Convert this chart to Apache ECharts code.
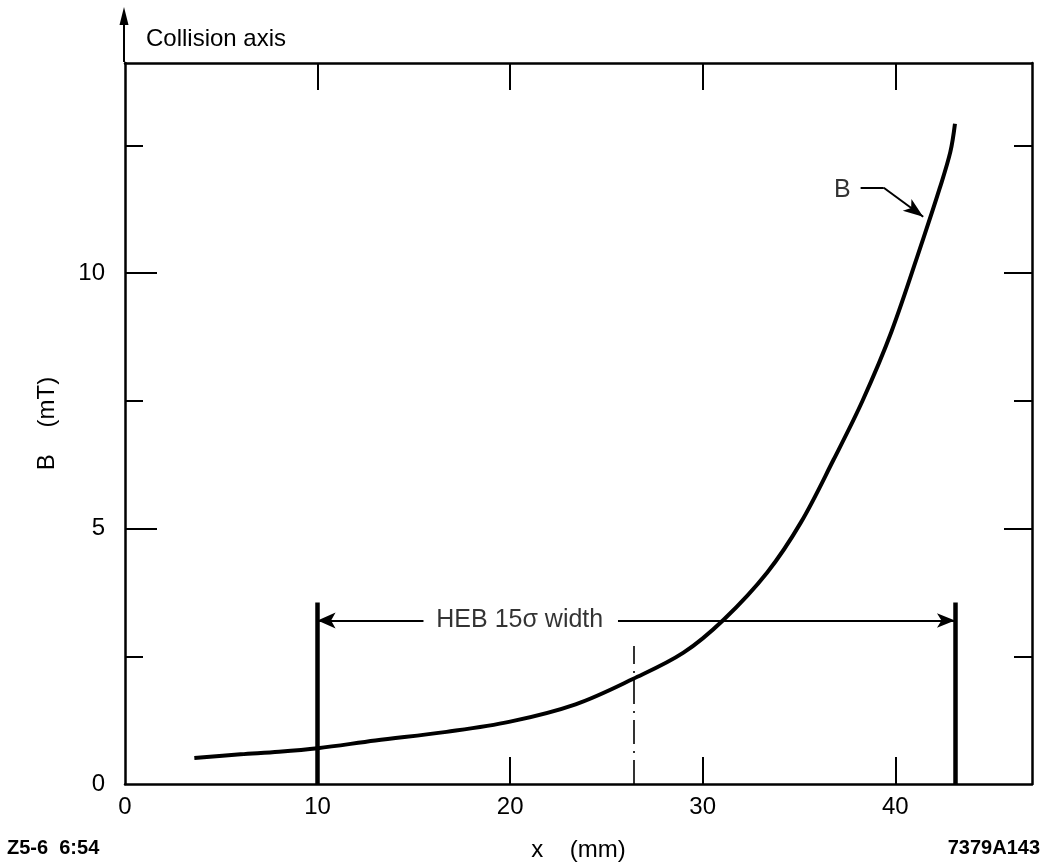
<!DOCTYPE html>
<html>
<head>
<meta charset="utf-8">
<script src="https://cdn.jsdelivr.net/npm/echarts@6/dist/echarts.min.js"></script>
<style>
  html, body { margin: 0; padding: 0; background: #fff; }
  #chart { width: 1046px; height: 866px; }
</style>
</head>
<body>
<div id="chart"></div>
<script>
// ---- data ----
const curveX = [3.6, 6, 8, 10, 13, 16.7, 20, 23.4, 26.4, 29.0, 31.1, 33.35, 35.1, 36.8, 38.3, 39.8, 41.45, 42.3, 42.86, 43.1];
const curveY = [0.51, 0.58, 0.63, 0.70, 0.85, 1.02, 1.22, 1.56, 2.06, 2.57, 3.22, 4.14, 5.12, 6.35, 7.5, 8.85, 10.67, 11.65, 12.37, 12.92];

const xLabelValues = [0, 10, 20, 30, 40];
const xTickValues = [10, 20, 30, 40];
const yLabelValues = [0, 5, 10];
const yMajorTickValues = [5, 10];
const yMinorTickValues = [2.5, 7.5, 12.5];
const xRange = [0, 47.1];
const yRange = [0, 14.11];

// HEB 15 sigma width bracket
const bracketX = [10, 43.1];
const bracketTop = 3.55;
const arrowY = 3.2;
const arrowGap = [15.5, 25.6];      // gap in the arrow line where the text sits
const widthLabel = 'HEB 15σ width';
const widthLabelX = 20.5;
const centerLineX = 26.4;
const centerLineTop = 2.7;

// "B" label and its leader arrow
const bLabel = 'B';
const bLabelPos = [37.25, 11.63];
const bLeaderX = [38.2, 39.4, 41.45];
const bLeaderY = [11.67, 11.67, 11.1];

const FONT = 'Liberation Sans, Arial, Helvetica, sans-serif';

const chart = echarts.init(document.getElementById('chart'));

const blackLine = { color: '#000', width: 2.5 };

function yAxisDef(position, ticks, tickLen, showLine, showLabel) {
  return {
    type: 'value', position: position, min: yRange[0], max: yRange[1], interval: 5,
    axisLine: { show: showLine, onZero: false, lineStyle: blackLine },
    axisTick: { show: true, inside: true, length: tickLen, customValues: ticks, lineStyle: { color: '#000', width: 2 } },
    axisLabel: { show: showLabel, customValues: yLabelValues, margin: 20, color: '#000', fontSize: 24, fontFamily: FONT },
    splitLine: { show: false }
  };
}

const annotationLines = [
  // bracket verticals
  [{ coord: [bracketX[0], 0], symbol: 'none', lineStyle: { width: 4.5 } }, { coord: [bracketX[0], bracketTop], symbol: 'none' }],
  [{ coord: [bracketX[1], 0], symbol: 'none', lineStyle: { width: 4.5 } }, { coord: [bracketX[1], bracketTop], symbol: 'none' }],
  // arrow, left part
  [{ coord: [arrowGap[0], arrowY], symbol: 'none', lineStyle: { width: 2 } }, { coord: [bracketX[0], arrowY], symbol: 'arrow', symbolSize: [12, 18] }],
  // arrow, right part
  [{ coord: [arrowGap[1], arrowY], symbol: 'none', lineStyle: { width: 2 } }, { coord: [bracketX[1], arrowY], symbol: 'arrow', symbolSize: [11, 18] }],
  // centre dash-dot line
  [{ coord: [centerLineX, 0], symbol: 'none', lineStyle: { width: 1.6, type: [24, 7, 2, 7] } }, { coord: [centerLineX, centerLineTop], symbol: 'none' }],
  // B leader
  [{ coord: [bLeaderX[0], bLeaderY[0]], symbol: 'none', lineStyle: { width: 2 } }, { coord: [bLeaderX[1], bLeaderY[1]], symbol: 'none' }],
  [{ coord: [bLeaderX[1], bLeaderY[1]], symbol: 'none', lineStyle: { width: 2 } }, { coord: [bLeaderX[2], bLeaderY[2]], symbol: 'arrow', symbolSize: [11, 20] }]
];

const option = {
  animation: false,
  backgroundColor: '#fff',
  textStyle: { fontFamily: FONT, color: '#000' },
  grid: { left: 125, right: 14, top: 63, bottom: 82, containLabel: false, outerBoundsMode: 'none' },
  xAxis: [
    {
      type: 'value', position: 'bottom', min: xRange[0], max: xRange[1], interval: 10,
      name: 'x    (mm)', nameLocation: 'middle', nameGap: 54,
      nameTextStyle: { fontSize: 24, color: '#000', fontFamily: FONT },
      axisLine: { show: true, onZero: false, lineStyle: blackLine },
      axisTick: { show: true, inside: true, length: 27, customValues: xTickValues, lineStyle: { color: '#000', width: 2 } },
      axisLabel: { show: true, customValues: xLabelValues, margin: 11, color: '#000', fontSize: 24, fontFamily: FONT },
      splitLine: { show: false }
    },
    {
      type: 'value', position: 'top', min: xRange[0], max: xRange[1], interval: 10,
      axisLine: { show: true, onZero: false, lineStyle: blackLine },
      axisTick: { show: true, inside: true, length: 27, customValues: xTickValues, lineStyle: { color: '#000', width: 2 } },
      axisLabel: { show: false },
      splitLine: { show: false }
    }
  ],
  yAxis: [
    Object.assign(yAxisDef('left', yMajorTickValues, 32, true, true), {
      name: 'B    (mT)', nameLocation: 'middle', nameGap: 66, nameRotate: 90,
      nameTextStyle: { fontSize: 24, color: '#000', fontFamily: FONT }
    }),
    yAxisDef('left', yMinorTickValues, 18, false, false),
    yAxisDef('right', yMajorTickValues, 28, true, false),
    yAxisDef('right', yMinorTickValues, 18, false, false)
  ],
  series: [
    {
      type: 'line', xAxisIndex: 0, yAxisIndex: 0,
      data: curveX.map((x, i) => [x, curveY[i]]),
      smooth: 0.35, symbol: 'none',
      lineStyle: { color: '#000', width: 4 },
      z: 3
    },
    {
      type: 'scatter', xAxisIndex: 0, yAxisIndex: 0,
      symbolSize: 0,
      data: [
        { name: widthLabel, value: [widthLabelX, arrowY] },
        { name: bLabel, value: bLabelPos }
      ],
      label: { show: true, position: 'inside', formatter: '{b}', color: '#000', fontSize: 25, fontFamily: FONT },
      emphasis: { disabled: true },
      silent: true,
      markLine: {
        silent: true, animation: false,
        label: { show: false },
        lineStyle: { color: '#000', type: 'solid' },
        data: annotationLines
      },
      z: 4
    }
  ],
  graphic: [
    { type: 'line', shape: { x1: 124, y1: 62, x2: 124, y2: 20 }, style: { stroke: '#000', lineWidth: 2 } },
    { type: 'polygon', shape: { points: [[124, 7], [119.5, 25], [128.5, 25]] }, style: { fill: '#000' } },
    { type: 'text', left: 146, top: 27, style: { text: 'Collision axis', fontSize: 24, fontFamily: FONT, fill: '#000' } },
    { type: 'text', left: 7, top: 838, style: { text: 'Z5-6  6:54', fontSize: 20, fontWeight: 'bold', fontFamily: FONT, fill: '#000' } },
    { type: 'text', right: 6, top: 838, style: { text: '7379A143', fontSize: 20, fontWeight: 'bold', fontFamily: FONT, fill: '#000' } }
  ]
};

chart.setOption(option);
</script>
</body>
</html>
